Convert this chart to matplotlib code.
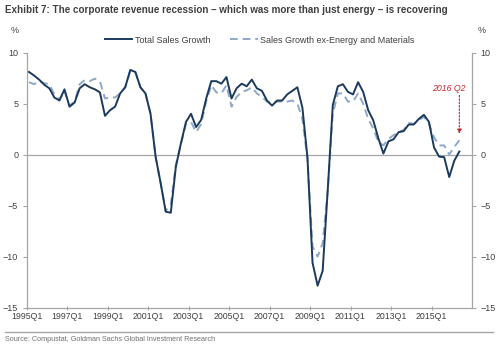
import numpy as np
import matplotlib
matplotlib.use("Agg")
import matplotlib.pyplot as plt
from matplotlib.lines import Line2D

# Year-over-year sales growth (%), quarterly 1995Q1 .. 2016Q2
total_sales_growth = [
    8.1, 7.75, 7.35, 6.85, 6.5, 5.6, 5.3, 6.4, 4.7, 5.1,
    6.5, 6.9, 6.6, 6.4, 6.1, 3.8, 4.35, 4.7, 6.0, 6.6,
    8.3, 8.1, 6.6, 6.0, 4.0, -0.2, -2.8, -5.6, -5.7, -1.2,
    1.1, 3.2, 4.0, 2.7, 3.4, 5.5, 7.2, 7.2, 6.95, 7.6,
    5.5, 6.5, 6.95, 6.7, 7.35, 6.5, 6.25, 5.3, 4.8, 5.3,
    5.3, 5.9, 6.25, 6.6, 4.6, -0.3, -10.6, -12.85, -11.4, -3.5,
    4.85, 6.7, 6.9, 6.15, 5.9, 7.1, 6.15, 4.35, 3.35, 1.6,
    0.1, 1.3, 1.5, 2.2, 2.3, 2.95, 2.95, 3.5, 3.9, 3.2,
    0.7, -0.2, -0.25, -2.2, -0.6, 0.3,
]
ex_energy_materials = [
    7.1, 6.9, 7.2, 7.0, 6.9, 5.9, 5.4, 6.2, 4.8, 5.2,
    6.9, 7.3, 7.2, 7.45, 7.2, 5.5, 5.6, 5.6, 6.0, 6.6,
    8.2, 8.1, 6.6, 6.0, 4.0, -0.2, -2.8, -5.5, -4.9, -1.0,
    1.0, 3.0, 3.2, 2.2, 3.0, 5.2, 6.8, 6.1, 6.0, 6.8,
    4.7, 5.65, 6.15, 6.3, 6.6, 6.0, 5.65, 5.2, 5.0, 5.2,
    5.2, 5.2, 5.3, 5.0, 3.5, -0.5, -9.0, -10.0, -8.7, -3.5,
    4.0, 6.0, 6.0, 5.2, 5.2, 6.0, 5.0, 3.5, 2.55, 1.25,
    0.9, 1.55, 1.9, 2.2, 2.4, 3.1, 3.0, 3.4, 3.7, 3.0,
    1.7, 0.9, 0.9, 0.0, 0.75, 1.4,
]
tick_labels = ["1995Q1", "1997Q1", "1999Q1", "2001Q1", "2003Q1",
               "2005Q1", "2007Q1", "2009Q1", "2011Q1", "2013Q1", "2015Q1"]
y_ticks = [-15, -10, -5, 0, 5, 10]
n_categories = 88          # 1995Q1 .. 2016Q4 category slots
highlight_label = "2016 Q2"

NAVY = "#1b3a5c"
LIGHT = "#8fa8c6"
GREY = "#a6a6a6"
TEXT = "#404040"
RED = "#c0282d"
SANS = ["Liberation Sans", "DejaVu Sans"]

plt.rcParams["font.family"] = SANS

fig = plt.figure(figsize=(5.0, 3.46), dpi=100)
ax = fig.add_axes([0.053, 0.111, 0.891, 0.737])

x = np.arange(len(total_sales_growth)) + 0.5
ax.axhline(0, color=GREY, lw=0.9, zorder=1)
ax.plot(x, ex_energy_materials, color=LIGHT, lw=1.4, dashes=(4, 2.5), zorder=2)
ax.plot(x, total_sales_growth, color=NAVY, lw=1.4, zorder=3)

ax.set_xlim(0, n_categories)
ax.set_ylim(-15, 10)
ax.set_xticks(np.arange(len(tick_labels)) * 8)
ax.set_xticklabels(tick_labels)
ax.set_yticks(y_ticks)
ax.tick_params(axis="x", labelsize=6.3, colors=GREY, labelcolor=TEXT,
               length=3, width=0.8, direction="inout", pad=2)
ax.tick_params(axis="y", labelsize=6.5, colors=GREY, labelcolor=TEXT,
               length=3, width=0.8, direction="out", pad=3,
               right=True, labelright=True)
for side in ("left", "right", "bottom"):
    ax.spines[side].set_color(GREY)
    ax.spines[side].set_linewidth(0.9)
ax.spines["top"].set_visible(False)

# Highlight the latest quarter
last_x = x[-1]
ax.annotate("", xy=(last_x, 2.05), xytext=(last_x, 5.8),
            arrowprops=dict(arrowstyle="-|>", color=RED, lw=0.8,
                            linestyle=(0, (1.5, 1.5)), mutation_scale=6,
                            shrinkA=0, shrinkB=0))
ax.text(last_x + 1.3, 6.5, highlight_label, color=RED, fontsize=6.3,
        style="italic", ha="right", va="center")

# Unit markers above both axes
fig.text(0.030, 0.913, "%", fontsize=6.5, color=TEXT, ha="center", va="center")
fig.text(0.964, 0.913, "%", fontsize=6.5, color=TEXT, ha="center", va="center")

handles = [Line2D([], [], color=NAVY, lw=1.4),
           Line2D([], [], color=LIGHT, lw=1.4, dashes=(4, 2.5))]
fig.legend(handles, ["Total Sales Growth", "Sales Growth ex-Energy and Materials"],
           loc="center", bbox_to_anchor=(0.52, 0.884), ncol=2, frameon=False,
           fontsize=6.5, handlelength=3.0, handletextpad=0.3,
           columnspacing=2.2, labelcolor=TEXT)

fig.text(0.010, 0.970,
         "Exhibit 7: The corporate revenue recession \u2013 which was more than just energy \u2013 is recovering",
         fontweight="bold", fontsize=7.15, color=TEXT,
         ha="left", va="center")

fig.add_artist(Line2D([0.010, 0.986], [0.041, 0.041], color=GREY, lw=1.0))
fig.text(0.010, 0.020, "Source: Compustat, Goldman Sachs Global Investment Research",
         fontsize=5.2, color="#707070", ha="left", va="center")

fig.savefig("out.png", dpi=100)
